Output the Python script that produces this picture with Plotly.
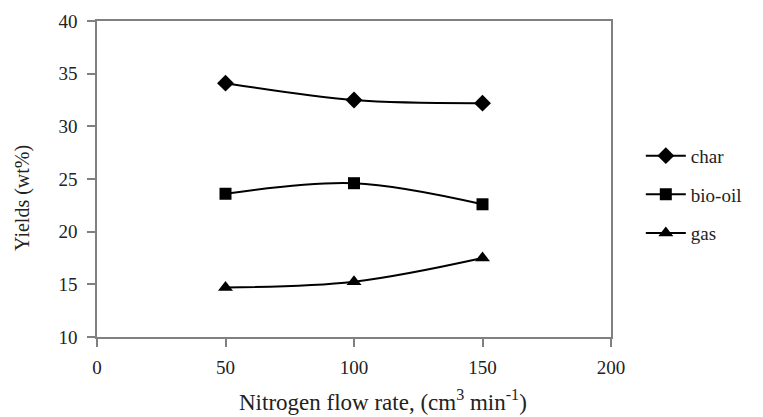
import plotly.graph_objects as go

flow = [50, 100, 150]
char = [34.1, 32.5, 32.2]
bio_oil = [23.6, 24.6, 22.6]
gas = [14.7, 15.25, 17.5]

series = [("char", char, "diamond", 13), ("bio-oil", bio_oil, "square", 12), ("gas", gas, "triangle-up", 13)]

SERIF = "Liberation Serif"

fig = go.Figure()
for i, (name, vals, sym, sz) in enumerate(series):
    fig.add_trace(go.Scatter(
        x=flow, y=vals, name=name, mode="lines+markers",
        line=dict(color="black", width=2, shape="spline"),
        marker=dict(symbol=sym, size=sz, color="black"),
        legendgroup=name,
    ))

axis_common = dict(
    showline=True, linecolor="#808080", linewidth=1.5, mirror=True,
    ticks="outside", tickcolor="#808080", ticklen=8, tickwidth=1.5,
    showgrid=False, zeroline=False,
    tickfont=dict(size=19, color="#222"),
)

fig.update_layout(
    width=763, height=417,
    margin=dict(l=97, r=152, t=21, b=80),
    paper_bgcolor="white", plot_bgcolor="white",
    font=dict(family=SERIF, size=19, color="#222"),
    xaxis=dict(range=[0, 200], tickvals=[0, 50, 100, 150, 200], ticklabelstandoff=4, **axis_common),
    yaxis=dict(range=[10, 40], tickvals=[10, 15, 20, 25, 30, 35, 40], ticklabelstandoff=6, **axis_common),
    legend=dict(x=1.058, y=0.45, yanchor="middle", xanchor="left",
                tracegroupgap=11, itemwidth=40,
                font=dict(size=19, color="#222"),
                bgcolor="rgba(0,0,0,0)"),
    annotations=[
        dict(text="Nitrogen flow rate, (cm<sup>3</sup> min<sup>-1</sup>)", xref="paper", yref="paper",
             x=0.556, y=-0.2, xanchor="center", yanchor="middle", showarrow=False,
             font=dict(size=23, color="#222")),
        dict(text="Yields (wt%)", xref="paper", yref="paper", textangle=-90,
             x=-0.144, y=0.44, xanchor="center", yanchor="middle", showarrow=False,
             font=dict(size=20, color="#222")),
    ],
)

fig.write_html("out.html")
